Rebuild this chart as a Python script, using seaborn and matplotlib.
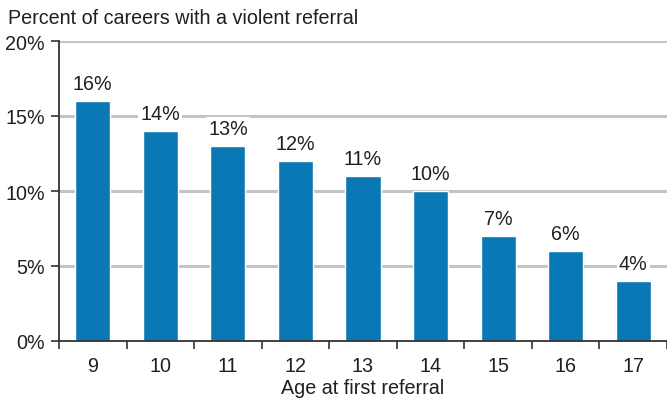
import numpy as np
import pandas as pd
import seaborn as sns
import matplotlib.pyplot as plt

# ── DATA ───────────────────────────────────────────────
ages = ["9", "10", "11", "12", "13", "14", "15", "16", "17"]
pct_violent = [16, 14, 13, 12, 11, 10, 7, 6, 4]
y_ticks = [0, 5, 10, 15, 20]
y_tick_labels = ["0%", "5%", "10%", "15%", "20%"]

df = pd.DataFrame({"age": ages, "pct": pct_violent})

# ── STYLE ──────────────────────────────────────────────
sns.set_style("white")
plt.rcParams["font.family"] = ["Liberation Sans", "DejaVu Sans"]
bar_color = "#0a78b4"
text_color = "#231f20"
fs = 14.2

fig = plt.figure(figsize=(6.67, 4.02), dpi=100)
ax = fig.add_axes([59 / 667, 60 / 402, 608 / 667, 300 / 402])

for y in y_ticks[1:]:
    ax.axhline(y, color="#c4c4c4", lw=2.2, zorder=0)

sns.barplot(data=df, x="age", y="pct", color=bar_color, width=0.52,
            saturation=1, ax=ax, zorder=2)

for i, v in enumerate(pct_violent):
    ax.text(i, v + 0.55, f"{v}%", ha="center", va="bottom", fontsize=fs,
            color=text_color, zorder=3,
            bbox=dict(facecolor="white", edgecolor="none", pad=1.5))

ax.set_ylim(0, 20)
ax.set_xlim(-0.5, len(ages) - 0.5)
ax.set_yticks(y_ticks)
ax.set_yticklabels(y_tick_labels, fontsize=fs, color=text_color)

# category labels in centre, tick marks on the boundaries
ax.set_xticks(np.arange(len(ages)) + 0.0)
ax.set_xticklabels(ages, fontsize=fs, color=text_color)
ax.tick_params(axis="x", which="major", length=0, pad=11)
ax.set_xticks(np.arange(len(ages) + 1) - 0.5, minor=True)
ax.tick_params(axis="x", which="minor", bottom=True, length=6, width=1.2,
               color="#333333", direction="out")
ax.tick_params(axis="y", length=6, width=1.2, color="#333333", direction="out",
               left=True, pad=4)

for side in ["top", "right"]:
    ax.spines[side].set_visible(False)
for side in ["left", "bottom"]:
    ax.spines[side].set_color("#333333")
    ax.spines[side].set_linewidth(1.3)
    ax.spines[side].set_zorder(4)

ax.set_xlabel("Age at first referral", fontsize=fs, color=text_color, labelpad=2)
ax.set_ylabel("")
fig.text(8 / 667, 1 - 18 / 402, "Percent of careers with a violent referral",
         fontsize=fs, color=text_color, va="center", ha="left")

plt.savefig("out.png", dpi=100)
